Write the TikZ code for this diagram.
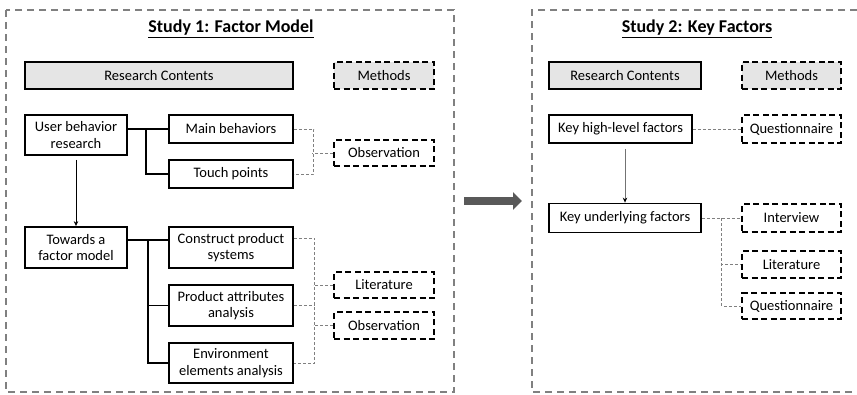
\documentclass[tikz,border=0pt]{standalone}
\usepackage{fontspec}
\setmainfont{Carlito}
\usetikzlibrary{arrows.meta,calc,positioning}
\tikzset{
  panel/.style={draw=black!50,line width=1.4pt,dash pattern=on 7pt off 5pt},
  box/.style={draw,line width=1.8pt,fill=white,align=center,inner sep=0pt,
    font=\fontsize{14.5}{16.5}\selectfont},
  headbox/.style={box,fill=black!10},
  methodbox/.style={box,dash pattern=on 6pt off 3.5pt},
  methodhead/.style={methodbox,fill=black!10},
  tree/.style={line width=1.5pt},
  mlink/.style={draw=black!50,line width=0.9pt,dash pattern=on 3pt off 2pt},
  studytitle/.style={font=\fontsize{18}{20}\selectfont\bfseries}
}
\begin{document}
\begin{tikzpicture}[x=1pt,y=-1pt]
\useasboundingbox (0,0) rectangle (857,394);
% the two study frames
\draw[panel] (6,10) rectangle (454,392);
\draw[panel] (857,10) -- (532,10) -- (532,392) -- (857,392);
\node[studytitle] (t1) at (231,29) {\underline{Study 1: Factor Model}};
\node[studytitle] (t2) at (697,29) {\underline{Study 2: Key Factors}};

% study 1
\node[headbox,minimum width=268,minimum height=27] (rc1) at (159,75.5) {Research Contents};
\node[methodhead,minimum width=100,minimum height=27] (mh1) at (384,75.5) {Methods};
\node[box,minimum width=102,minimum height=40] (ubr) at (76,135) {User behavior\\research};
\node[box,minimum width=124,minimum height=28] (mb) at (231,129) {Main behaviors};
\node[box,minimum width=124,minimum height=28] (tp) at (231,174) {Touch points};
\node[methodbox,minimum width=100,minimum height=26] (obs1) at (384,153) {Observation};
\node[box,minimum width=102,minimum height=41] (taf) at (76,247.5) {Towards a\\factor model};
\node[box,minimum width=124,minimum height=41] (cps) at (231,247.5) {Construct product\\systems};
\node[box,minimum width=124,minimum height=41] (paa) at (231,305.5) {Product attributes\\analysis};
\node[box,minimum width=124,minimum height=40] (eea) at (231,363) {Environment\\elements analysis};
\node[methodbox,minimum width=100,minimum height=26] (lit1) at (384,285) {Literature};
\node[methodbox,minimum width=100,minimum height=27] (obs2) at (384,325.5) {Observation};

\draw[tree] (ubr.east |- mb.west) -- (mb.west);
\draw[tree] (mb.west) ++(-22,0) |- (tp.west);
\coordinate (fork2) at (148,240);
\draw[tree] ([yshift=7.5pt]taf.east) -- ([yshift=7.5pt]cps.west);
\draw[tree] (fork2) |- (paa.west) (fork2) |- (eea.west);
\draw[-{Stealth[length=5pt,width=4.5pt]},line width=0.9pt,shorten <=4pt] (ubr.south) -- (taf.north);

\draw[mlink] (mb.east) -- ++(20,0) |- (tp.east);
\draw[mlink] (obs1.west) -- ++(-21,0);
\draw[mlink] ([yshift=9.5pt]cps.east) -- ++(21,0) |- (eea.east);
\draw[mlink] (paa.east) -- ++(21,0);
\draw[mlink] (lit1.west) -- ++(-20,0);
\draw[mlink] (obs2.west) -- ++(-20,0);

% between the studies
\coordinate (bigfrom) at (464,201);
\coordinate (bigto) at (522,201);
\draw[black!65,line width=8pt,-{Triangle[length=9pt,width=17pt]}] (bigfrom) -- (bigto);

% study 2
\node[headbox,minimum width=152,minimum height=27] (rc2) at (625,75.5) {Research Contents};
\node[methodhead,minimum width=99,minimum height=27] (mh2) at (791.5,75.5) {Methods};
\node[box,minimum width=143,minimum height=28] (khf) at (620.5,129) {Key high-level factors};
\node[methodbox,minimum width=99,minimum height=28] (q1) at (791.5,129) {Questionnaire};
\node[box,minimum width=152,minimum height=29] (kuf) at (625,218) {Key underlying factors};
\node[methodbox,minimum width=99,minimum height=28] (iv) at (791.5,218) {Interview};
\node[methodbox,minimum width=99,minimum height=27] (lit2) at (791.5,264.5) {Literature};
\node[methodbox,minimum width=99,minimum height=26] (q2) at (791.5,306) {Questionnaire};

\draw[black!55,line width=0.9pt,-{Stealth[black,length=5pt,width=4.5pt]},shorten <=5pt]
  (khf.south -| kuf.north) -- (kuf.north);
\draw[mlink] (khf.east) -- (q1.west);
\draw[mlink] (kuf.east) -- (iv.west);
\draw[mlink] ([xshift=20pt]kuf.east) |- (lit2.west) ([xshift=20pt]kuf.east) |- (q2.west);
\end{tikzpicture}
\end{document}
